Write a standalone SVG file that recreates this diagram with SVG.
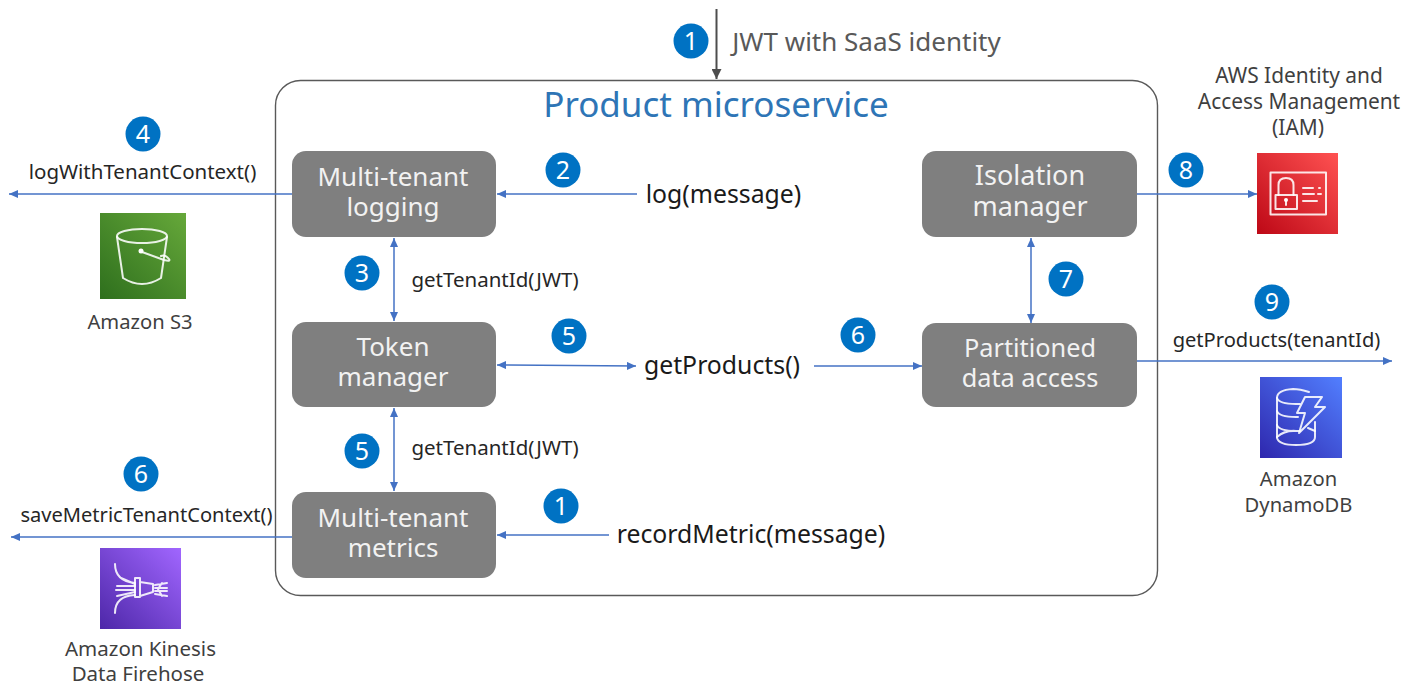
<svg xmlns="http://www.w3.org/2000/svg" width="1416" height="687" viewBox="0 0 1416 687">
<style>
text{font-family:"Noto Sans","Open Sans","Liberation Sans",sans-serif;text-anchor:middle}
.box{fill:#7f7f7f}
.bt{fill:#f2f2f2;font-size:26px}
.num{fill:#fff;font-size:25px}
.badge{fill:#0072c3}
.c{stroke:#4472c4;stroke-width:1.5;fill:none;marker-end:url(#a)}
.d{marker-start:url(#as)}
.l{fill:#262626;font-size:20.500px}
.m{fill:#1a1a1a;font-size:24.800px}
.s{fill:#3f3f3f;font-size:20.500px}
.i{fill:none;stroke:#fff;stroke-width:2;stroke-linecap:round;stroke-linejoin:round;opacity:.88}
</style>
<defs>
<marker id="a" markerWidth="10" markerHeight="8" refX="9" refY="4" orient="auto" markerUnits="userSpaceOnUse"><path d="M0 0L9 4L0 8z" fill="#4472c4"/></marker>
<marker id="as" markerWidth="10" markerHeight="8" refX="1" refY="4" orient="auto" markerUnits="userSpaceOnUse"><path d="M10 0L1 4L10 8z" fill="#4472c4"/></marker>
<marker id="g" markerWidth="11" markerHeight="10" refX="10" refY="5" orient="auto" markerUnits="userSpaceOnUse"><path d="M0 0L10 5L0 10z" fill="#4d4d4d"/></marker>
<linearGradient id="gs" x1="0" y1="1" x2="1" y2="0"><stop offset="0" stop-color="#2e6f1d"/><stop offset="1" stop-color="#66a83a"/></linearGradient>
<linearGradient id="gr" x1="0" y1="1" x2="1" y2="0"><stop offset="0" stop-color="#bd0816"/><stop offset="1" stop-color="#ff5252"/></linearGradient>
<linearGradient id="gb" x1="0" y1="1" x2="1" y2="0"><stop offset="0" stop-color="#2e27ad"/><stop offset="1" stop-color="#527fff"/></linearGradient>
<linearGradient id="gp" x1="0" y1="1" x2="1" y2="0"><stop offset="0" stop-color="#4d27a8"/><stop offset="1" stop-color="#a166ff"/></linearGradient>
</defs>

<g id="service"><rect x="275.500" y="80.500" width="882" height="515" rx="25" fill="#fff" stroke="#595959" stroke-width="1.400"/>
<text x="716" y="117" fill="#2e75b6" font-size="35">Product microservice</text></g>

<g id="connectors">
<path d="M716.500 9V79" stroke="#4d4d4d" stroke-width="2" fill="none" marker-end="url(#g)"/>
<path class="c" d="M292 194H9"/>
<path class="c" d="M637 194H497"/>
<path class="c d" d="M394 238V321"/>
<path class="c d" d="M497 365L636 366"/>
<path class="c" d="M814 366H922"/>
<path class="c d" d="M394 408V491"/>
<path class="c" d="M292 537H11"/>
<path class="c" d="M609 535H497"/>
<path class="c d" d="M1031 238V323"/>
<path class="c" d="M1137 194H1257"/>
<path class="c" d="M1137 361H1392"/>
</g>

<g id="multi-tenant-logging"><rect class="box" x="292" y="151" width="204" height="86" rx="14"/><text class="bt" x="393" y="186">Multi-tenant<tspan x="393" dy="30">logging</tspan></text></g>
<g id="token-manager"><rect class="box" x="292" y="322" width="204" height="85" rx="14"/><text class="bt" x="393" y="356">Token<tspan x="393" dy="30">manager</tspan></text></g>
<g id="multi-tenant-metrics"><rect class="box" x="292" y="492" width="204" height="86" rx="14"/><text class="bt" x="393" y="527">Multi-tenant<tspan x="393" dy="30">metrics</tspan></text></g>
<g id="isolation-manager"><rect class="box" x="922" y="151" width="215" height="86" rx="14"/><text class="bt" x="1030" y="185" style="font-size:27px">Isolation<tspan x="1030" dy="31">manager</tspan></text></g>
<g id="partitioned-data-access"><rect class="box" x="922" y="323" width="215" height="84" rx="14"/><text class="bt" x="1030" y="357" style="font-size:25.300px">Partitioned<tspan x="1030" dy="30">data access</tspan></text></g>

<g id="labels">
<text class="s" style="font-size:26px;fill:#595959" x="866.500" y="51">JWT with SaaS identity</text>
<text class="m" x="723.500" y="203">log(message)</text>
<text class="m" x="722" y="374">getProducts()</text>
<text class="m" x="751" y="543">recordMetric(message)</text>
<text class="l" x="142.500" y="179">logWithTenantContext()</text>
<text class="l" x="495" y="287">getTenantId(JWT)</text>
<text class="l" x="495" y="455">getTenantId(JWT)</text>
<text class="l" style="font-size:20.100px" x="146.500" y="522">saveMetricTenantContext()</text>
<text class="l" style="font-size:20.100px" x="1276.500" y="347">getProducts(tenantId)</text>
</g>

<g id="badges">
<g id="b1"><circle class="badge" cx="691" cy="41" r="17.500"/><text class="num" x="691" y="50">1</text></g>
<g id="b2"><circle class="badge" cx="563" cy="170" r="17.500"/><text class="num" x="563" y="179">2</text></g>
<g id="b3"><circle class="badge" cx="362" cy="273" r="17.500"/><text class="num" x="362" y="282">3</text></g>
<g id="b4"><circle class="badge" cx="143" cy="134" r="17.500"/><text class="num" x="143" y="143">4</text></g>
<g id="b5a"><circle class="badge" cx="569" cy="336" r="17.500"/><text class="num" x="569" y="345">5</text></g>
<g id="b5b"><circle class="badge" cx="362" cy="451" r="17.500"/><text class="num" x="362" y="460">5</text></g>
<g id="b6a"><circle class="badge" cx="858" cy="335" r="17.500"/><text class="num" x="858" y="344">6</text></g>
<g id="b6b"><circle class="badge" cx="141" cy="474" r="17.500"/><text class="num" x="141" y="483">6</text></g>
<g id="b1b"><circle class="badge" cx="561" cy="506" r="17.500"/><text class="num" x="561" y="515">1</text></g>
<g id="b7"><circle class="badge" cx="1066" cy="279" r="17.500"/><text class="num" x="1066" y="288">7</text></g>
<g id="b8"><circle class="badge" cx="1186" cy="170" r="17.500"/><text class="num" x="1186" y="179">8</text></g>
<g id="b9"><circle class="badge" cx="1272" cy="302" r="17.500"/><text class="num" x="1272" y="311">9</text></g>
</g>

<g id="s3"><rect x="100" y="213" width="86" height="86" fill="url(#gs)"/>
<ellipse class="i" cx="142" cy="236" rx="25" ry="7"/>
<path class="i" d="M117 237L123 278Q142 290 161 278L167 237"/>
<circle cx="141" cy="251" r="2.500" fill="#fff"/>
<path class="i" d="M142 252L164 260Q171 262 169 259Q165 254 161 256"/>
<text class="s" style="font-size:20.200px" x="140" y="329">Amazon S3</text></g>

<g id="iam"><rect x="1257" y="153" width="81" height="81" fill="url(#gr)"/>
<rect class="i" x="1270.500" y="172.500" width="55.500" height="42"/>
<rect class="i" x="1275.500" y="195" width="21.500" height="14"/>
<path class="i" d="M1278.500 195V185Q1278.500 178 1286 178Q1293.500 178 1293.500 185V195"/>
<circle cx="1286" cy="200" r="2" fill="#fff"/><path class="i" d="M1286 201V205M1303 188H1313M1319 188H1320M1303 194H1314M1318 194H1321M1303 201H1317"/>
<text class="s" x="1299" y="83" style="font-size:20.900px">AWS Identity and<tspan x="1299" dy="26">Access Management</tspan><tspan x="1298" dy="26">(IAM)</tspan></text></g>

<g id="dynamodb"><rect x="1260" y="377" width="82" height="81" fill="url(#gb)"/>
<path class="i" d="M1309 392Q1300 389 1293 389Q1277 390 1277 398V438Q1279 445 1296 445Q1315 445 1315 437V422"/>
<path class="i" d="M1277 398Q1279 404 1296 404H1300M1277 411Q1279 417 1296 417H1298M1277 425Q1279 431 1296 431H1300M1277 437Q1285 430 1296 431M1315 431L1308 428"/>
<path class="i" d="M1305 397H1322L1315 407H1325L1299 433L1305 413H1297Z"/>
<text class="s" style="font-size:20.200px" x="1298.500" y="486">Amazon<tspan x="1298.500" dy="26">DynamoDB</tspan></text></g>

<g id="firehose"><rect x="100" y="548" width="81" height="81" fill="url(#gp)"/>
<path class="i" d="M115 564Q115 581 135 583M115 613Q115 596 135 595M117 586L135 586M116 590H135M117 596L135 592M121 578L135 584"/>
<path class="i" d="M135 578H140V597H135ZM140 582L153 584V592L140 596Z"/>
<path class="i" d="M155 585L167 583M155 588H167M155 591H167M155 594L167 596M162 583L158 589L162 596"/>
<text class="s" x="140.500" y="656">Amazon Kinesis<tspan x="138" dy="25">Data Firehose</tspan></text></g>
</svg>
